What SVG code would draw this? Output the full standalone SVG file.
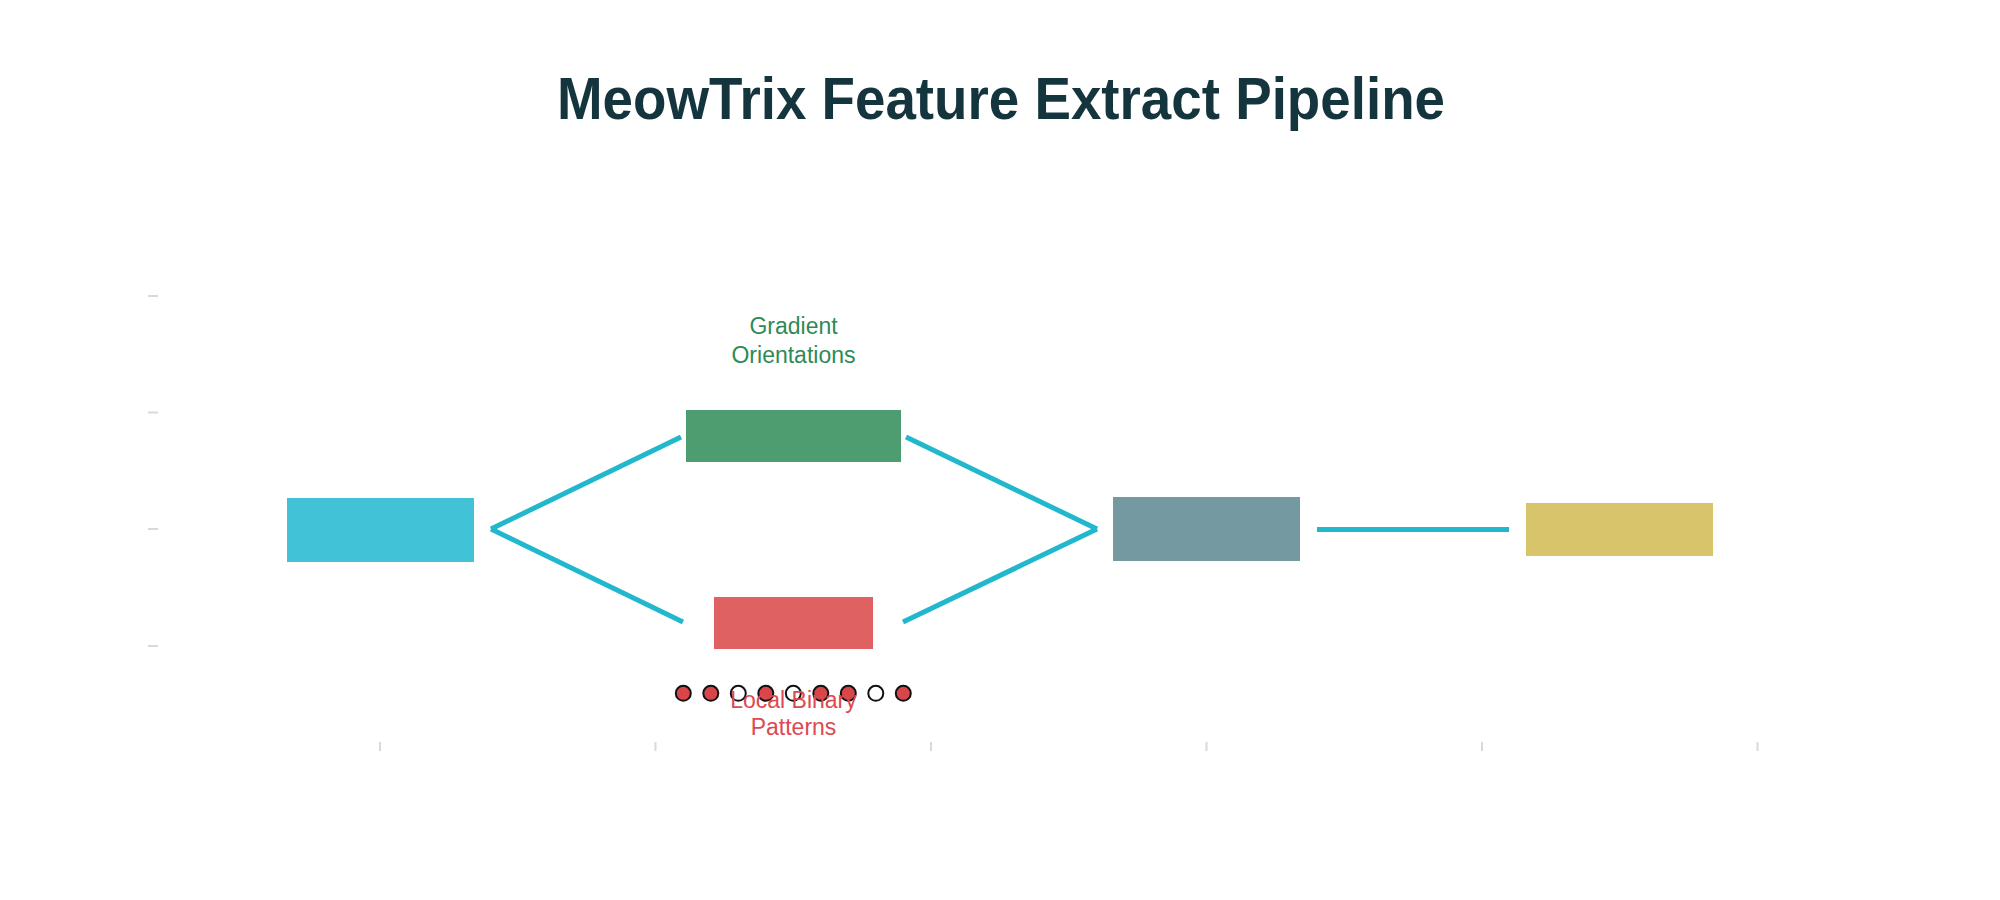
<svg xmlns="http://www.w3.org/2000/svg" width="2000" height="900" viewBox="0 0 2000 900">
<style>
.tick{stroke:#dcd8d4;stroke-width:2}
.edge{stroke:#21b8cd;stroke-width:5;fill:none;stroke-linecap:butt}
.lbl{font-family:"Liberation Sans",Arial,sans-serif;font-size:23px;text-anchor:middle}
.bit{stroke:#111;stroke-width:2}
.on{fill:#d9464a}
.off{fill:#ffffff}
</style>
<rect width="2000" height="900" fill="#ffffff"/>
<text x="1001" y="119" font-family="'Liberation Sans',Arial,sans-serif" font-weight="bold" font-size="60" fill="#15353e" text-anchor="middle" textLength="888" lengthAdjust="spacingAndGlyphs">MeowTrix Feature Extract Pipeline</text>
<g id="axes">
<line class="tick" x1="148" y1="296" x2="158" y2="296"/>
<line class="tick" x1="148" y1="412.5" x2="158" y2="412.5"/>
<line class="tick" x1="148" y1="529" x2="158" y2="529"/>
<line class="tick" x1="148" y1="646" x2="158" y2="646"/>
<line class="tick" x1="380" y1="742" x2="380" y2="751"/>
<line class="tick" x1="655.5" y1="742" x2="655.5" y2="751"/>
<line class="tick" x1="931" y1="742" x2="931" y2="751"/>
<line class="tick" x1="1206.5" y1="742" x2="1206.5" y2="751"/>
<line class="tick" x1="1482" y1="742" x2="1482" y2="751"/>
<line class="tick" x1="1757.5" y1="742" x2="1757.5" y2="751"/>
</g>
<g id="connectors">
<line class="edge" x1="491" y1="529" x2="681" y2="437"/>
<line class="edge" x1="491" y1="529" x2="683" y2="622"/>
<line class="edge" x1="906" y1="437" x2="1097" y2="529"/>
<line class="edge" x1="903" y1="622" x2="1097" y2="529"/>
<line class="edge" x1="1317" y1="529.5" x2="1509" y2="529.5"/>
</g>
<g id="node-input">
<rect x="287" y="498" width="187" height="64" fill="#42c2d6"/>
</g>
<g id="node-gradient">
<rect x="686" y="410" width="215" height="52" fill="#4e9d70"/>
<text class="lbl" x="793.5" y="334" fill="#2e8a57">Gradient</text>
<text class="lbl" x="793.5" y="363" fill="#2e8a57">Orientations</text>
</g>
<g id="node-lbp">
<rect x="714" y="597" width="159" height="52" fill="#e06162"/>
<circle class="bit on" cx="683.3" cy="693.3" r="7.5"/>
<circle class="bit on" cx="710.8" cy="693.3" r="7.5"/>
<circle class="bit off" cx="738.3" cy="693.3" r="7.5"/>
<circle class="bit on" cx="765.8" cy="693.3" r="7.5"/>
<circle class="bit off" cx="793.3" cy="693.3" r="7.5"/>
<circle class="bit on" cx="820.8" cy="693.3" r="7.5"/>
<circle class="bit on" cx="848.3" cy="693.3" r="7.5"/>
<circle class="bit off" cx="875.8" cy="693.3" r="7.5"/>
<circle class="bit on" cx="903.3" cy="693.3" r="7.5"/>
<text class="lbl" x="793.5" y="708" fill="#dc4a50">Local Binary</text>
<text class="lbl" x="793.5" y="735" fill="#dc4a50">Patterns</text>
</g>
<g id="node-fusion">
<rect x="1113" y="497" width="187" height="64" fill="#7499a0"/>
</g>
<g id="node-classify">
<rect x="1526" y="503" width="187" height="53" fill="#d8c46a"/>
</g>
</svg>
